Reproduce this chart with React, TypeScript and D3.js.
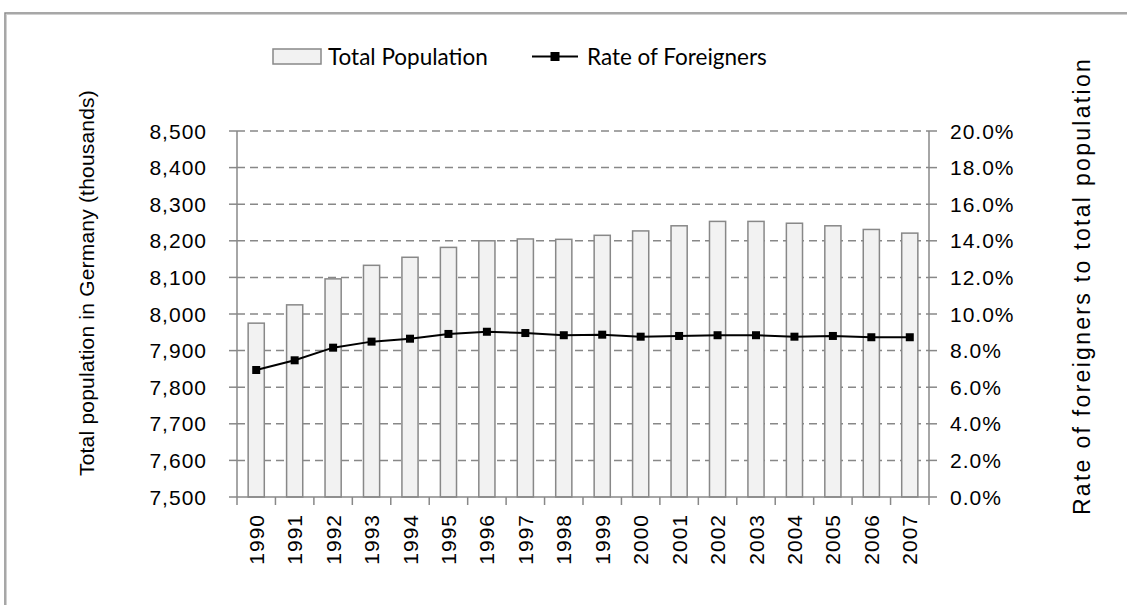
import React from "react";
import * as d3 from "d3";

const years = ["1990","1991","1992","1993","1994","1995","1996","1997","1998","1999","2000","2001","2002","2003","2004","2005","2006","2007"];
const population = [7975, 8025, 8096, 8133, 8155, 8182, 8200, 8205, 8204, 8215, 8227, 8241, 8253, 8253, 8248, 8241, 8231, 8221];
const rate = [6.94, 7.47, 8.16, 8.49, 8.65, 8.91, 9.03, 8.96, 8.84, 8.87, 8.76, 8.80, 8.84, 8.84, 8.76, 8.80, 8.73, 8.73];
const leftTicks = [7500, 7600, 7700, 7800, 7900, 8000, 8100, 8200, 8300, 8400, 8500];
const rightTicks = [0, 2, 4, 6, 8, 10, 12, 14, 16, 18, 20];

const W = 1127, H = 605;
const X0 = 237, X1 = 929, YT = 131, YB = 497;
const AXIS_FONT = "'Liberation Sans', Arial, sans-serif";
const LEG_FONT = "Lato, 'Open Sans', sans-serif";

export default function App() {
  const x = d3.scaleBand<string>().domain(years).range([X0, X1]).paddingInner(0.58).paddingOuter(0.29);
  const xb = d3.scaleBand<string>().domain(years).range([X0, X1]);
  const yL = d3.scaleLinear().domain([7500, 8500]).range([YB, YT]);
  const yR = d3.scaleLinear().domain([0, 20]).range([YB, YT]);
  const fmt = d3.format(",");
  const line = d3.line<number>().x((_, i) => (xb(years[i]) as number) + xb.bandwidth() / 2).y((d) => yR(d));
  const ms = 8;
  return (
    <div style={{ position: "fixed", left: 0, top: 0 }}>
      <svg width={W} height={H} style={{ display: "block", background: "#fff" }}>
        <rect x={5} y={13} width={1200} height={700} fill="none" stroke="#8a8a8a" strokeWidth={1.5} />
        <rect x={6.5} y={14.5} width={1200} height={700} fill="none" stroke="#d0d0d0" strokeWidth={1} />
        {leftTicks.slice(1).map((t) => (
          <line key={"g" + t} x1={X0} x2={X1} y1={yL(t)} y2={yL(t)} stroke="#888" strokeWidth={1.5} strokeDasharray="8,5" />
        ))}
        {years.map((yr, i) => (
          <rect key={"b" + yr} x={x(yr)} y={yL(population[i])} width={x.bandwidth()} height={YB - yL(population[i])}
            fill="#f2f2f2" stroke="#888" strokeWidth={1.5} />
        ))}
        <line x1={X0} x2={X0} y1={YT} y2={YB} stroke="#888" strokeWidth={1.5} />
        <line x1={X1} x2={X1} y1={YT} y2={YB} stroke="#888" strokeWidth={1.5} />
        <line x1={X0} x2={X1} y1={YB} y2={YB} stroke="#888" strokeWidth={1.5} />
        {leftTicks.map((t) => (
          <g key={"l" + t}>
            <line x1={X0 - 8} x2={X0} y1={yL(t)} y2={yL(t)} stroke="#888" strokeWidth={1.5} />
            <text x={207} y={yL(t)} dy="0.36em" textAnchor="end" fontFamily={AXIS_FONT} fontSize={21} letterSpacing={1} fill="#000">{fmt(t)}</text>
          </g>
        ))}
        {rightTicks.map((t) => (
          <g key={"r" + t}>
            <line x1={X1} x2={X1 + 8} y1={yR(t)} y2={yR(t)} stroke="#888" strokeWidth={1.5} />
            <text x={950} y={yR(t)} dy="0.36em" textAnchor="start" fontFamily={AXIS_FONT} fontSize={21} letterSpacing={1} fill="#000">{t.toFixed(1) + "%"}</text>
          </g>
        ))}
        {years.map((yr) => (
          <line key={"xt" + yr} x1={xb(yr)} x2={xb(yr)} y1={YB} y2={YB + 8} stroke="#888" strokeWidth={1.5} />
        ))}
        <line x1={X1} x2={X1} y1={YB} y2={YB + 8} stroke="#888" strokeWidth={1.5} />
        {years.map((yr) => {
          const cx = (xb(yr) as number) + xb.bandwidth() / 2;
          return (
            <text key={"xl" + yr} transform={`translate(${cx},${514}) rotate(-90)`} dy="0.36em" textAnchor="end"
              fontFamily={AXIS_FONT} fontSize={21} letterSpacing={1} fill="#000">{yr}</text>
          );
        })}
        <path d={line(rate) as string} fill="none" stroke="#000" strokeWidth={2} />
        {rate.map((r, i) => {
          const cx = (xb(years[i]) as number) + xb.bandwidth() / 2;
          return <rect key={"m" + i} x={cx - ms / 2} y={yR(r) - ms / 2} width={ms} height={ms} fill="#000" />;
        })}
        <text transform={`translate(86,${283}) rotate(-90)`} dy="0.36em" textAnchor="middle" fontFamily={AXIS_FONT} fontSize={21} letterSpacing={0.2} fill="#000">
          Total population in Germany (thousands)
        </text>
        <text transform={`translate(1082,${286}) rotate(-90)`} dy="0.36em" textAnchor="middle" fontFamily={AXIS_FONT} fontSize={23} letterSpacing={2.3} fill="#000">
          Rate of foreigners to total population
        </text>
        <rect x={273} y={49} width={48} height={15} fill="#f2f2f2" stroke="#888" strokeWidth={1.5} />
        <text x={328} y={56.5} dy="0.36em" fontFamily={LEG_FONT} fontSize={22.5} fill="#000">Total Population</text>
        <line x1={532} x2={578} y1={56.5} y2={56.5} stroke="#000" strokeWidth={2} />
        <rect x={555 - 4.5} y={56.5 - 4.5} width={9} height={9} fill="#000" />
        <text x={587} y={56.5} dy="0.36em" fontFamily={LEG_FONT} fontSize={22.5} fill="#000">Rate of Foreigners</text>
      </svg>
    </div>
  );
}
